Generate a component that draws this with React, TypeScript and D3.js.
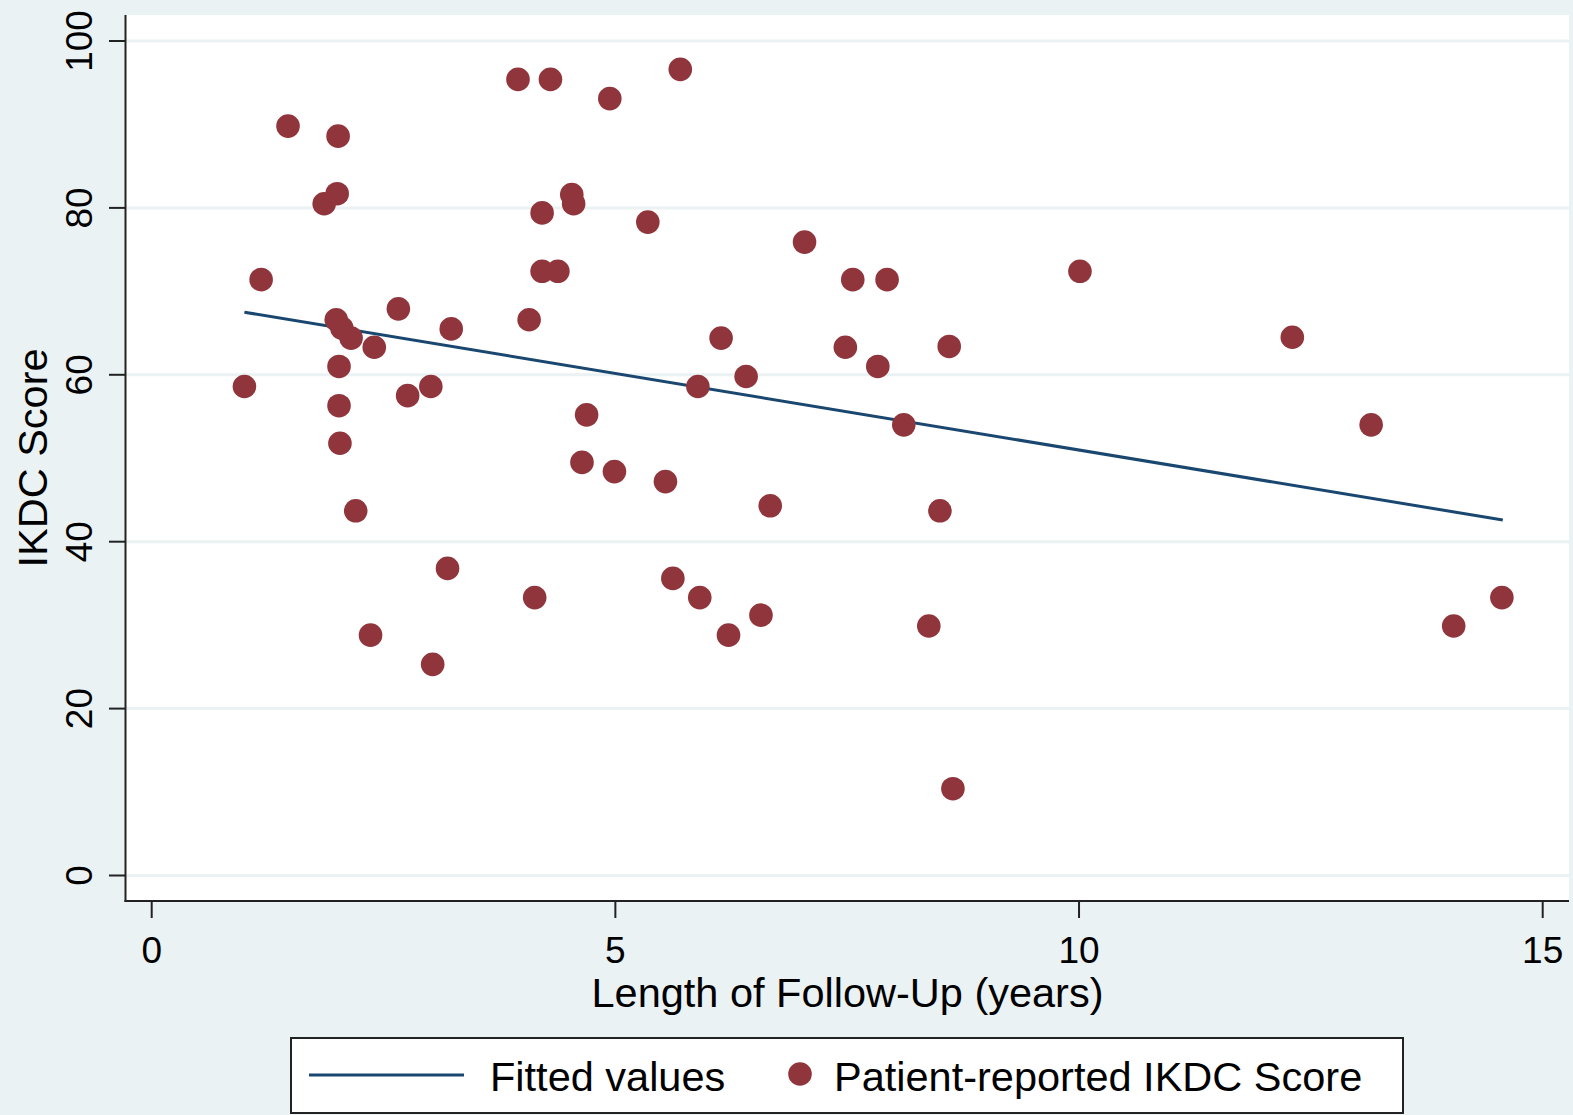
import React from "react";
import * as d3 from "d3";

const followUpYears: number[] = [
  1.0, 1.18, 1.47, 1.86, 2.0, 2.01, 1.99, 2.05, 2.15, 2.02, 2.02, 2.03, 2.2, 2.36, 2.4,
  2.66, 2.76, 3.01, 3.03, 3.19, 3.23, 3.95, 4.3, 4.07, 4.13, 4.21, 4.21, 4.38, 4.53, 4.55,
  4.64, 4.69, 4.94, 4.99, 5.35, 5.54, 5.62, 5.7, 5.89, 5.91, 6.14, 6.22, 6.41, 6.57, 6.67,
  7.04, 7.48, 7.56, 7.83, 7.93, 8.11, 8.38, 8.5, 8.6, 8.64, 10.01, 12.3, 13.15, 14.04, 14.56,
];
const ikdcScores: number[] = [
  58.6, 71.4, 89.8, 80.5, 81.7, 88.6, 66.6, 65.6, 64.4, 61.0, 56.3, 51.8, 43.7, 28.8, 63.3,
  67.9, 57.5, 58.6, 25.3, 36.8, 65.5, 95.4, 95.4, 66.6, 33.3, 79.4, 72.4, 72.4, 81.6, 80.5,
  49.5, 55.2, 93.1, 48.4, 78.3, 47.2, 35.6, 96.6, 58.6, 33.3, 64.4, 28.8, 59.8, 31.2, 44.3,
  75.9, 63.3, 71.4, 61.0, 71.4, 54.0, 29.9, 43.7, 63.4, 10.4, 72.4, 64.5, 54.0, 29.9, 33.3,
];
const fittedX: number[] = [1.0, 14.57];
const fittedY: number[] = [67.5, 42.6];
const xTicks: number[] = [0, 5, 10, 15];
const yTicks: number[] = [0, 20, 40, 60, 80, 100];
const legendLabels: string[] = ["Fitted values", "Patient-reported IKDC Score"];
const xTitle = "Length of Follow-Up (years)";
const yTitle = "IKDC Score";

const W = 1573;
const H = 1115;
const plot = { left: 126, right: 1569, top: 15, bottom: 901 };
const BG = "#EAF2F3";
const MAROON = "#90353B";
const NAVY = "#1A476F";
const FONT = "'Liberation Sans', Arial, sans-serif";
const TICK_FS = 37;
const TITLE_FS = 41.5;

export default function App() {
  const x = d3.scaleLinear().domain([0, 15]).range([151.7, 1542.7]);
  const y = d3.scaleLinear().domain([0, 100]).range([875.5, 41]);
  const line = d3
    .line<number>()
    .x((d) => x(d))
    .y((_, i) => y(fittedY[i]));
  const pts = followUpYears.map((v, i) => ({ x: v, y: ikdcScores[i] }));

  return (
    <svg
      width={W}
      height={H}
      style={{ position: "absolute", left: 0, top: 0, display: "block" }}
      fontFamily={FONT}
    >
      <rect x={0} y={0} width={W} height={H} fill={BG} />
      <rect
        x={plot.left}
        y={plot.top}
        width={plot.right - plot.left}
        height={plot.bottom - plot.top}
        fill="#ffffff"
      />
      {yTicks.map((t) => (
        <line
          key={"g" + t}
          x1={plot.left}
          x2={plot.right}
          y1={y(t)}
          y2={y(t)}
          stroke={BG}
          strokeWidth={3}
        />
      ))}
      {/* axes */}
      <line x1={plot.left - 0.5} x2={plot.left - 0.5} y1={plot.top} y2={plot.bottom + 1} stroke="#222" strokeWidth={2} />
      <line x1={plot.left - 1.5} x2={plot.right} y1={plot.bottom} y2={plot.bottom} stroke="#222" strokeWidth={2} />
      {yTicks.map((t) => (
        <g key={"yt" + t}>
          <line x1={109} x2={plot.left} y1={y(t)} y2={y(t)} stroke="#222" strokeWidth={2} />
          <text
            transform={`translate(92,${y(t)}) rotate(-90)`}
            textAnchor="middle"
            fontSize={TICK_FS}
            fill="#000"
          >
            {t}
          </text>
        </g>
      ))}
      {xTicks.map((t) => (
        <g key={"xt" + t}>
          <line x1={x(t)} x2={x(t)} y1={plot.bottom} y2={918} stroke="#222" strokeWidth={2} />
          <text x={x(t)} y={963} textAnchor="middle" fontSize={TICK_FS} fill="#000">
            {t}
          </text>
        </g>
      ))}
      <text x={(plot.left + plot.right) / 2} y={1007} textAnchor="middle" fontSize={TITLE_FS} fill="#000">
        {xTitle}
      </text>
      <text
        transform={`translate(47,${(plot.top + plot.bottom) / 2}) rotate(-90)`}
        textAnchor="middle"
        fontSize={TITLE_FS}
        fill="#000"
      >
        {yTitle}
      </text>
      {/* fitted line */}
      <path d={line(fittedX) || ""} fill="none" stroke={NAVY} strokeWidth={3} />
      {/* points */}
      {pts.map((p, i) => (
        <circle key={i} cx={x(p.x)} cy={y(p.y)} r={11.8} fill={MAROON} />
      ))}
      {/* legend */}
      <rect x={291} y={1038} width={1112} height={75} fill="#ffffff" stroke="#222" strokeWidth={2} />
      <line x1={309} x2={464} y1={1075} y2={1075} stroke={NAVY} strokeWidth={3} />
      <text x={490} y={1091} fontSize={TITLE_FS} fill="#000">
        {legendLabels[0]}
      </text>
      <circle cx={800} cy={1074} r={11.8} fill={MAROON} />
      <text x={834} y={1091} fontSize={TITLE_FS} fill="#000">
        {legendLabels[1]}
      </text>
    </svg>
  );
}
